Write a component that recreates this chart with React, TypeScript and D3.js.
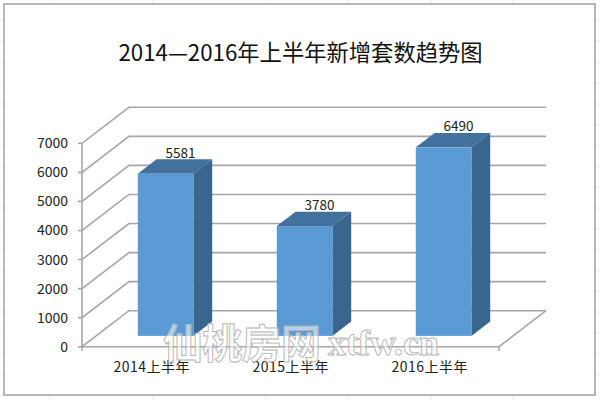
import React from "react";
import * as d3 from "d3";

const categories = ["2014上半年", "2015上半年", "2016上半年"];
const values = [5581, 3780, 6490];
const yTicks = [0, 1000, 2000, 3000, 4000, 5000, 6000, 7000];
const titleText = "2014—2016年上半年新增套数趋势图";
const sheetColumns = [50, 153, 266, 348, 431, 513];
const sheetRows = [20, 41, 62, 83, 104, 125, 146, 166, 187, 208, 229, 250, 270, 291, 312, 333, 354, 374, 395];

const width = 600;
const height = 401;
const marginLeft = 82;
const plotRight = 499;
const plotTop = 143.3;
const plotBottom = 346.7;

// 3D offset of the back wall
const depthX = 47;
const depthY = -36;
// bars stand between these fractions of the floor depth
const barNear = 0.3;
const barFar = 0.7;

const gridColor = "#a6a6a6";
const frontColor = "#5b9bd5";
const topColor = "#41719c";
const sideColor = "#3a658f";
const textColor = "#222";
const fontFamily = '"Noto Sans CJK SC", "Open Sans", sans-serif';

export default function App() {
  const x = d3
    .scaleBand<string>()
    .domain(categories)
    .range([marginLeft, plotRight])
    .paddingInner(0.6)
    .paddingOuter(0.3);
  const y = d3.scaleLinear().domain([0, 7000]).range([plotBottom, plotTop]);

  const poly = d3.line();
  const nearX = depthX * barNear;
  const nearY = depthY * barNear;
  const barDx = depthX * (barFar - barNear);
  const barDy = depthY * (barFar - barNear);
  const bw = x.bandwidth();

  return (
    <svg
      width={width}
      height={height}
      style={{ position: "absolute", left: 0, top: 0, background: "#fff" }}
    >
      {/* spreadsheet cells behind the chart */}
      <g stroke="#ececec" strokeWidth="1">
        {sheetColumns.map((c) => (
          <line key={c} x1={c} x2={c} y1={0} y2={height} />
        ))}
        {sheetRows.map((r) => (
          <line key={r} x1={0} x2={width} y1={r} y2={r} />
        ))}
      </g>
      <rect x={4} y={4} width={591} height={391} fill="#fff" stroke="#a6a6a6" strokeWidth="1.6" />

      <text
        x={300.5}
        y={61}
        textAnchor="middle"
        fontFamily={fontFamily}
        fontSize="22.3"
        fill="#111"
      >
        {titleText}
      </text>

      {/* walls and gridlines */}
      <g fill="none" stroke={gridColor} strokeWidth="1.6">
        {yTicks.map((t) => (
          <path
            key={t}
            d={
              poly([
                [marginLeft - 4, y(t)],
                [marginLeft, y(t)],
                [marginLeft + depthX, y(t) + depthY],
                [plotRight + depthX, y(t) + depthY],
              ]) ?? ""
            }
          />
        ))}
        <line x1={marginLeft} x2={marginLeft} y1={plotTop} y2={plotBottom + 4} />
        <path
          d={
            poly([
              [marginLeft, plotBottom],
              [plotRight, plotBottom],
              [plotRight + depthX, plotBottom + depthY],
            ]) ?? ""
          }
        />
        <line x1={plotRight} x2={plotRight} y1={plotBottom} y2={plotBottom + 4} />
      </g>

      {/* bars */}
      {categories.map((c, i) => {
        const x0 = (x(c) ?? 0) + nearX;
        const x1 = x0 + bw;
        const yTop = y(values[i]) + nearY;
        const yBase = y(0) + nearY;
        return (
          <g key={c}>
            <path
              fill={topColor}
              d={
                (poly([
                  [x0, yTop],
                  [x0 + barDx, yTop + barDy],
                  [x1 + barDx, yTop + barDy],
                  [x1, yTop],
                ]) ?? "") + "Z"
              }
            />
            <path
              fill={sideColor}
              d={
                (poly([
                  [x1, yTop],
                  [x1 + barDx, yTop + barDy],
                  [x1 + barDx, yBase + barDy],
                  [x1, yBase],
                ]) ?? "") + "Z"
              }
            />
            <rect x={x0} y={yTop} width={bw} height={yBase - yTop} fill={frontColor} />
            <text
              x={x0 + bw / 2 + 15}
              y={yTop + barDy - 1.5}
              textAnchor="middle"
              fontFamily={fontFamily}
              fontSize="13.5"
              fill={textColor}
            >
              {values[i]}
            </text>
          </g>
        );
      })}

      {/* axis labels */}
      <g fontFamily={fontFamily} fill={textColor}>
        {yTicks.map((t) => (
          <text key={t} x={68} y={y(t) + 5} textAnchor="end" fontSize="14">
            {t}
          </text>
        ))}
        {categories.map((c) => (
          <text
            key={c}
            x={(x(c) ?? 0) + bw / 2}
            y={371.5}
            textAnchor="middle"
            fontSize="14"
            textLength={76}
          >
            {c}
          </text>
        ))}
      </g>

      {/* watermark */}
      <g fill="#fff" fillOpacity="0.55" stroke="#b4b4b4" strokeWidth="0.9">
        <text
          x={163}
          y={358}
          fontFamily={fontFamily}
          fontWeight="bold"
          fontSize="40"
          textLength={158}
        >
          仙桃房网
        </text>
        <text
          x={328}
          y={355}
          fontFamily='"Liberation Serif", serif'
          fontWeight="bold"
          fontSize="36"
          textLength={111}
          lengthAdjust="spacingAndGlyphs"
        >
          xtfw.cn
        </text>
      </g>
    </svg>
  );
}
